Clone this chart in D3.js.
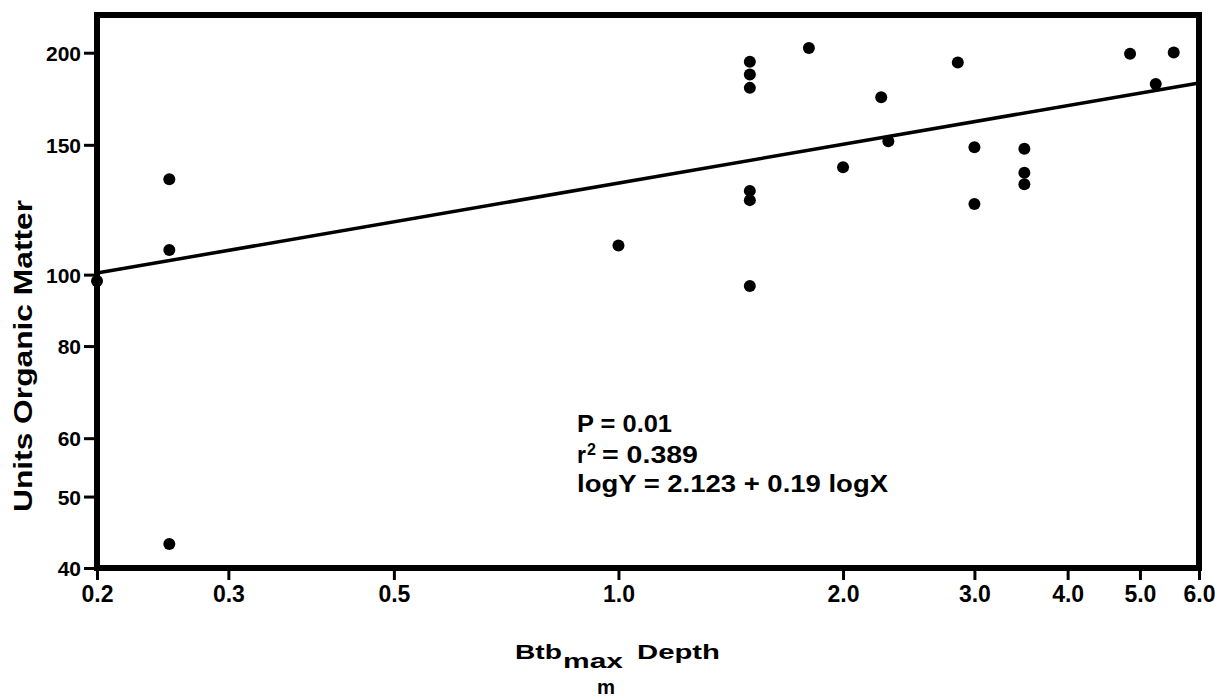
<!DOCTYPE html>
<html>
<head>
<meta charset="utf-8">
<script src="https://cdn.jsdelivr.net/npm/d3@7"></script>
<style>
  html, body { margin: 0; padding: 0; background: #fff; }
  svg { display: block; }
  text { font-family: "Liberation Sans", Arial, Helvetica, sans-serif; font-weight: bold; fill: #000; }
</style>
</head>
<body>
<svg id="chart" width="1215" height="698"></svg>
<script>
// ---- data ----
const depth = [0.2, 0.25, 0.25, 0.25, 1.0, 1.5, 1.5, 1.5, 1.5, 1.5, 1.5, 1.8, 2.0, 2.25, 2.3, 2.85, 3.0, 3.0, 3.5, 3.5, 3.5, 4.85, 5.25, 5.55];
const organic = [98, 134.7, 108, 43.1, 109.5, 194.4, 186.8, 179.2, 129.9, 126.2, 96.5, 202.9, 139.9, 174, 151.7, 194, 148.9, 124.7, 148.2, 137.5, 132.6, 199.3, 181.4, 200.1];
const fitX = [0.2, 6.0];
const fitY = [100.5, 182];
const xTicks = [0.2, 0.3, 0.5, 1.0, 2.0, 3.0, 4.0, 5.0, 6.0];
const yTicks = [40, 50, 60, 80, 100, 150, 200];
const xDomain = [0.2, 6.0];
const yDomain = [40, 225];

const svg = d3.select("#chart");
const L = 97, R = 1199, T = 15, B = 568;

const x = d3.scaleLog().domain(xDomain).range([L, R]);
const y = d3.scaleLog().domain(yDomain).range([B, T]);

// y axis
const yAxis = svg.append("g").attr("transform", `translate(${L},0)`)
  .call(d3.axisLeft(y).tickValues(yTicks).tickFormat(d3.format("d")).tickSize(13).tickPadding(3));
yAxis.select(".domain").remove();
yAxis.selectAll(".tick line").attr("stroke", "#000").attr("stroke-width", 3);
yAxis.selectAll(".tick text").style("font-size", "21px").attr("dy", "0.36em");

// x axis
const xAxis = svg.append("g").attr("transform", `translate(0,${B})`)
  .call(d3.axisBottom(x).tickValues(xTicks).tickFormat(d3.format(".1f")).tickSize(12).tickPadding(6));
xAxis.select(".domain").remove();
xAxis.selectAll(".tick line").attr("stroke", "#000").attr("stroke-width", 3);
xAxis.selectAll(".tick text").style("font-size", "23px");

// frame
svg.append("rect").attr("x", L).attr("y", T).attr("width", R - L).attr("height", B - T)
  .attr("fill", "none").attr("stroke", "#000").attr("stroke-width", 6);

// regression line
svg.append("path")
  .datum(fitX.map((d, i) => [d, fitY[i]]))
  .attr("d", d3.line().x(d => x(d[0])).y(d => y(d[1])))
  .attr("fill", "none").attr("stroke", "#000").attr("stroke-width", 3.5);

// points
svg.append("g").selectAll("circle")
  .data(depth.map((d, i) => [d, organic[i]]))
  .join("circle")
  .attr("cx", d => x(d[0])).attr("cy", d => y(d[1])).attr("r", 6).attr("fill", "#000");

// y title
svg.append("text")
  .attr("transform", "translate(32,356) rotate(-90)")
  .attr("text-anchor", "middle")
  .attr("textLength", 312).attr("lengthAdjust", "spacingAndGlyphs")
  .style("font-size", "25px")
  .text("Units Organic Matter");

// x title
svg.append("text").attr("x", 515).attr("y", 659).attr("textLength", 47).attr("lengthAdjust", "spacingAndGlyphs")
  .style("font-size", "21px").text("Btb");
svg.append("text").attr("x", 563).attr("y", 668).attr("textLength", 60).attr("lengthAdjust", "spacingAndGlyphs")
  .style("font-size", "21px").text("max");
svg.append("text").attr("x", 637).attr("y", 659).attr("textLength", 83).attr("lengthAdjust", "spacingAndGlyphs")
  .style("font-size", "21px").text("Depth");
svg.append("text").attr("x", 606).attr("y", 694).attr("text-anchor", "middle")
  .attr("textLength", 18).attr("lengthAdjust", "spacingAndGlyphs")
  .style("font-size", "20px").text("m");

// annotation
svg.append("text").attr("x", 577).attr("y", 432).attr("textLength", 95).attr("lengthAdjust", "spacingAndGlyphs")
  .style("font-size", "23px").text("P = 0.01");
svg.append("text").attr("x", 577).attr("y", 463).style("font-size", "23px").text("r");
svg.append("text").attr("x", 587).attr("y", 455).style("font-size", "16px").text("2");
svg.append("text").attr("x", 602).attr("y", 463).attr("textLength", 96).attr("lengthAdjust", "spacingAndGlyphs")
  .style("font-size", "23px").text("= 0.389");
svg.append("text").attr("x", 577).attr("y", 492).attr("textLength", 311).attr("lengthAdjust", "spacingAndGlyphs")
  .style("font-size", "23px").text("logY = 2.123 + 0.19 logX");
</script>
</body>
</html>
